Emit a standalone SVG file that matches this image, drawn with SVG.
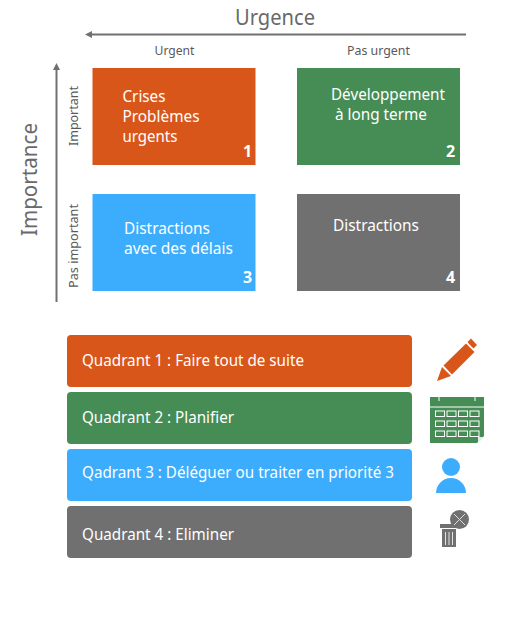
<svg xmlns="http://www.w3.org/2000/svg" width="517" height="644" viewBox="0 0 517 644">
<style>
text{font-family:"Noto Sans","Open Sans","Liberation Sans",sans-serif}
.w{fill:#fff;font-size:16px}
.n{fill:#fff;font-size:16px;font-weight:700}
.g{fill:#595959;font-size:12.500px}
.b{fill:#696969;font-size:22px}
.ax{stroke:#707070;stroke-width:2;fill:none}
.o{fill:#d9561b}.v{fill:#468c55}.c{fill:#3cacfc}.d{fill:#707070}
</style>
<rect width="517" height="644" fill="#fff"/>
<g id="connectors">
<path class="ax" d="M466 34.500H91"/>
<path d="M85 34.500L92 31V38Z" fill="#707070"/>
<path class="ax" d="M56.500 302V69"/>
<path d="M56.500 63L60 70H53Z" fill="#707070"/>
</g>
<g id="labels">
<text class="b" x="235" y="24.500" lengthAdjust="spacingAndGlyphs" textLength="80">Urgence</text>
<text class="b" x="37" y="236" lengthAdjust="spacingAndGlyphs" textLength="113" transform="rotate(-90 37 236)">Importance</text>
<text class="g" x="154.500" y="54.500" lengthAdjust="spacingAndGlyphs" textLength="40">Urgent</text>
<text class="g" x="347" y="54.500" lengthAdjust="spacingAndGlyphs" textLength="63">Pas urgent</text>
<text class="g" x="78" y="146" lengthAdjust="spacingAndGlyphs" textLength="60" transform="rotate(-90 78 146)">Important</text>
<text class="g" x="78" y="288" lengthAdjust="spacingAndGlyphs" textLength="84" transform="rotate(-90 78 288)">Pas important</text>
</g>
<g id="q1"><rect class="o" x="92.500" y="68" width="163" height="97"/>
<text class="w" x="122.500" y="102" lengthAdjust="spacingAndGlyphs" textLength="43">Crises</text>
<text class="w" x="122.500" y="122" lengthAdjust="spacingAndGlyphs" textLength="77">Problèmes</text>
<text class="w" x="122.500" y="142" lengthAdjust="spacingAndGlyphs" textLength="55">urgents</text>
<text class="n" x="243" y="157">1</text></g>
<g id="q2"><rect class="v" x="297" y="68" width="163" height="97"/>
<text class="w" x="331" y="100" lengthAdjust="spacingAndGlyphs" textLength="114">Développement</text>
<text class="w" x="335" y="120" lengthAdjust="spacingAndGlyphs" textLength="92">à long terme</text>
<text class="n" x="446" y="157">2</text></g>
<g id="q3"><rect class="c" x="92.500" y="194" width="163" height="97"/>
<text class="w" x="124" y="234" lengthAdjust="spacingAndGlyphs" textLength="86">Distractions</text>
<text class="w" x="124" y="254" lengthAdjust="spacingAndGlyphs" textLength="109">avec des délais</text>
<text class="n" x="243" y="283">3</text></g>
<g id="q4"><rect class="d" x="297" y="194" width="163" height="97"/>
<text class="w" x="333" y="231" lengthAdjust="spacingAndGlyphs" textLength="86">Distractions</text>
<text class="n" x="446" y="283">4</text></g>
<g id="r1"><rect class="o" x="67" y="335" width="345" height="52" rx="4"/><text class="w" x="82" y="366" lengthAdjust="spacingAndGlyphs" textLength="222">Quadrant 1 : Faire tout de suite</text></g>
<g id="r2"><rect class="v" x="67" y="392" width="345" height="52" rx="4"/><text class="w" x="82" y="423" lengthAdjust="spacingAndGlyphs" textLength="152">Quadrant 2 : Planifier</text></g>
<g id="r3"><rect class="c" x="67" y="449" width="345" height="52" rx="4"/><text class="w" x="82" y="478" lengthAdjust="spacingAndGlyphs" textLength="312">Qadrant 3 : Déléguer ou traiter en priorité 3</text></g>
<g id="r4"><rect class="d" x="67" y="506" width="345" height="52" rx="4"/><text class="w" x="82" y="540" lengthAdjust="spacingAndGlyphs" textLength="152">Quadrant 4 : Eliminer</text></g>
<g id="icon-pencil">
<path class="o" d="M437 381L442 367L451 376Z"/>
<path class="o" d="M443.500 365.500L466 343.500L474.500 352L452 374.500Z"/>
<path class="o" d="M467.500 342L471 338.500L477 345L473.500 348.500L470 345Z"/>
</g>
<g id="icon-calendar">
<path class="v" d="M430 397H484V436L477 443H430Z"/>
<path d="M430 407H484M439 397V401M475 397V401" stroke="#fff" stroke-width="1" fill="none"/>
<g fill="none" stroke="#fff" stroke-width="1">
<rect x="435.500" y="411" width="9" height="5.500"/><rect x="447" y="411" width="9" height="5.500"/><rect x="458.500" y="411" width="9" height="5.500"/><rect x="470" y="411" width="9" height="5.500"/>
<rect x="435.500" y="421" width="9" height="5.500"/><rect x="447" y="421" width="9" height="5.500"/><rect x="458.500" y="421" width="9" height="5.500"/><rect x="470" y="421" width="9" height="5.500"/>
<rect x="435.500" y="431" width="9" height="5.500"/><rect x="447" y="431" width="9" height="5.500"/><rect x="458.500" y="431" width="9" height="5.500"/><rect x="470" y="431" width="9" height="5.500"/>
</g>
<path d="M478 443V437H484Z" fill="#dfeee3"/>
</g>
<g id="icon-person">
<circle class="c" cx="451" cy="467" r="9"/>
<path class="c" d="M436 493A15 15 0 0 1 466 493Z"/>
</g>
<g id="icon-trash">
<rect class="d" x="440" y="524" width="18" height="4"/>
<rect class="d" x="442" y="529" width="14" height="18"/>
<path d="M445.500 532V545M449 532V545M452.500 532V545" stroke="#fff" stroke-width="1" opacity=".8"/>
<circle class="d" cx="459.500" cy="519.500" r="9.500"/>
<path d="M454 514L465 525M465 514L454 525" stroke="#ddd" stroke-width="1"/>
</g>
</svg>
